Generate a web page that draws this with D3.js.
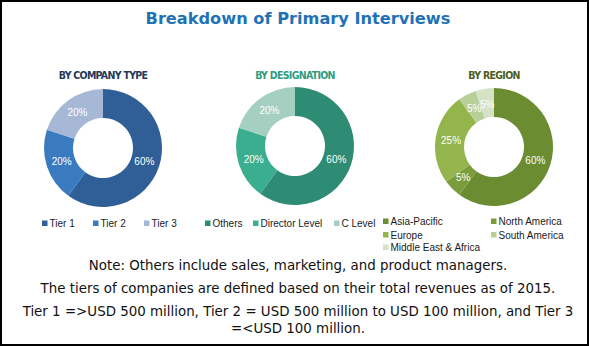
<!DOCTYPE html>
<html>
<head>
<meta charset="utf-8">
<script src="https://cdn.jsdelivr.net/npm/d3@7"></script>
<style>
  html, body { margin: 0; padding: 0; background: #fff; }
  svg { display: block; }
</style>
</head>
<body>
<svg id="chart" width="589" height="346"></svg>
<script>
// Shares of primary interviews, by respondent group
const companyTypes = ["Tier 1", "Tier 2", "Tier 3"];
const companyShares = [60, 20, 20];

const designations = ["Others", "Director Level", "C Level"];
const designationShares = [60, 20, 20];

const regions = ["Asia-Pacific", "North America", "Europe", "South America", "Middle East & Africa"];
const regionShares = [60, 5, 25, 5, 5];

const panelTitles = ["BY COMPANY TYPE", "BY DESIGNATION", "BY REGION"];

const notes = [
  "Note: Others include sales, marketing, and product managers.",
  "The tiers of companies are defined based on their total revenues as of 2015.",
  "Tier 1 =>USD 500 million, Tier 2 = USD 500 million to USD 100 million, and Tier 3",
  "=<USD 100 million."
];

const svg = d3.select("#chart");
const W = 589, H = 346;

// frame
svg.append("rect")
  .attr("x", 1).attr("y", 1)
  .attr("width", W - 2).attr("height", H - 2)
  .attr("fill", "#fff").attr("stroke", "#000").attr("stroke-width", 2);

svg.append("text")
  .attr("x", 298).attr("y", 24)
  .attr("text-anchor", "middle")
  .attr("font-family", "DejaVu Sans")
  .attr("font-weight", "bold")
  .attr("font-size", 16.2)
  .attr("fill", "#1f72b6")
  .text("Breakdown of Primary Interviews");

const panels = [
  {
    title: panelTitles[0], labels: companyTypes, values: companyShares,
    cx: 103, cy: 148, titleColor: "#22395a",
    colors: ["#2f5f96", "#3a7bc0", "#a6b8d6"],
    legend: [[42, 227], [93, 227], [144, 227]]
  },
  {
    title: panelTitles[1], labels: designations, values: designationShares,
    cx: 295, cy: 146, titleColor: "#2f9c80",
    colors: ["#2e8b74", "#3aae8f", "#a5d0c1"],
    legend: [[205, 227], [253, 227], [334, 227]]
  },
  {
    title: panelTitles[2], labels: regions, values: regionShares,
    cx: 494, cy: 147, titleColor: "#4d5c22",
    colors: ["#6b8c30", "#7b9c3c", "#93b54c", "#b8cf97", "#d5e2c6"],
    legend: [[383, 225], [491, 225], [383, 238.5], [491, 238.5], [383, 251]]
  }
];

const outerR = 59, innerR = 30;
const arc = d3.arc().innerRadius(innerR).outerRadius(outerR);
const labelArc = d3.arc().innerRadius((innerR + outerR) / 2 - 1).outerRadius((innerR + outerR) / 2 - 1);
const pie = d3.pie().sort(null).value(d => d);

panels.forEach(p => {
  const color = d3.scaleOrdinal().domain(p.labels).range(p.colors);
  const arcs = pie(p.values).map((a, i) => Object.assign(a, { label: p.labels[i] }));

  svg.append("text")
    .attr("x", p.cx).attr("y", 79)
    .attr("text-anchor", "middle")
    .attr("font-family", "DejaVu Sans Condensed, DejaVu Sans")
    .attr("font-stretch", "condensed")
    .attr("font-weight", "bold")
    .attr("font-size", 10.5)
    .attr("letter-spacing", -0.7)
    .attr("fill", p.titleColor)
    .text(p.title);

  const g = svg.append("g").attr("transform", `translate(${p.cx},${p.cy})`);

  g.selectAll("path")
    .data(arcs)
    .join("path")
    .attr("d", arc)
    .attr("fill", d => color(d.label));

  g.selectAll("text")
    .data(arcs)
    .join("text")
    .attr("transform", d => `translate(${labelArc.centroid(d)})`)
    .attr("text-anchor", "middle")
    .attr("dy", "0.35em")
    .attr("font-family", "Liberation Sans")
    .attr("font-size", 10)
    .attr("fill", "#fff")
    .text(d => d.value + "%");

  const lg = svg.append("g");
  const items = lg.selectAll("g")
    .data(p.labels)
    .join("g")
    .attr("transform", (d, i) => `translate(${p.legend[i][0]},${p.legend[i][1]})`);
  items.append("rect")
    .attr("x", 0).attr("y", -6.5)
    .attr("width", 5.5).attr("height", 5.5)
    .attr("fill", d => color(d));
  items.append("text")
    .attr("x", 7.5).attr("y", 0)
    .attr("font-family", "Liberation Sans")
    .attr("font-size", 10)
    .attr("fill", "#1a1a1a")
    .text(d => d);
});

const noteY = [270, 293, 316, 333];
svg.selectAll("text.note")
  .data(notes)
  .join("text")
  .attr("class", "note")
  .attr("x", 298)
  .attr("y", (d, i) => noteY[i])
  .attr("text-anchor", "middle")
  .attr("font-family", "DejaVu Sans")
  .attr("font-size", 13.4)
  .attr("fill", "#111")
  .text(d => d);
</script>
</body>
</html>
